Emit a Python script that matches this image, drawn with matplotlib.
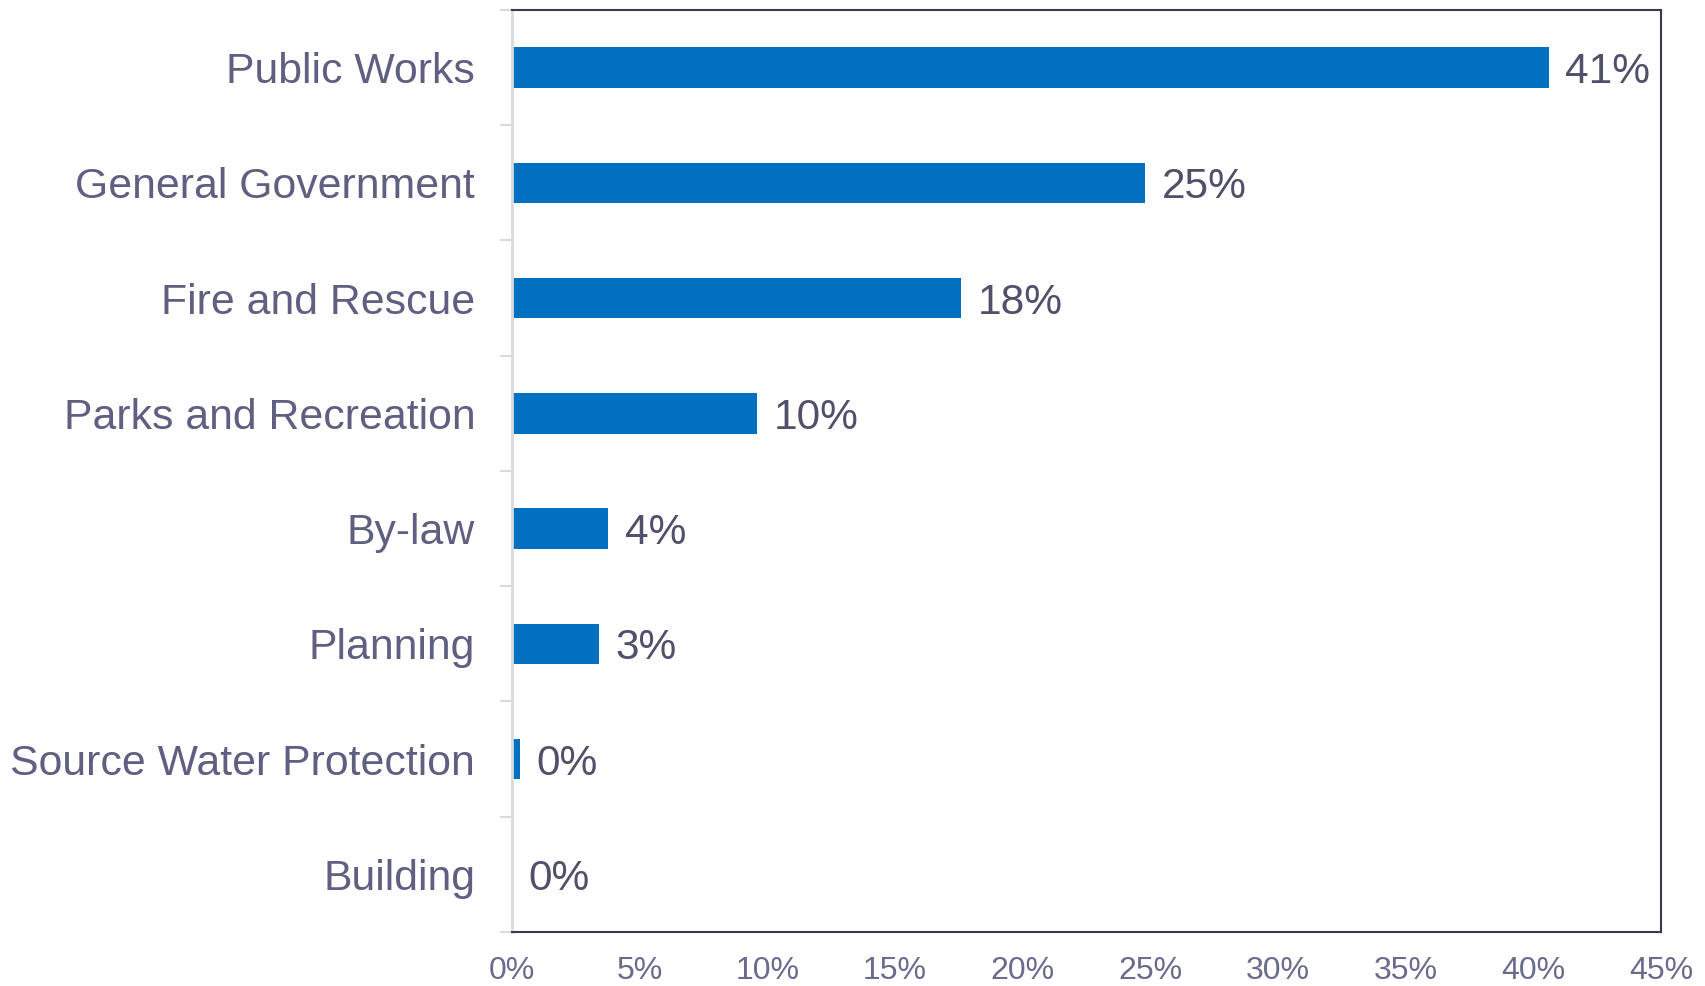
import numpy as np
import matplotlib
matplotlib.use("Agg")
from matplotlib import pyplot as plt
from matplotlib.ticker import FixedLocator, MultipleLocator, FuncFormatter

# share of spending by department (%)
departments = ["Public Works", "General Government", "Fire and Rescue",
               "Parks and Recreation", "By-law", "Planning",
               "Source Water Protection", "Building"]
shares = [40.6, 24.8, 17.6, 9.6, 3.76, 3.4, 0.3, 0.0]

plt.rcParams['font.family'] = ['Liberation Sans', 'DejaVu Sans']

bar_color = '#0070C0'
label_color = '#5f5f82'
value_color = '#50506a'
xtick_color = '#6a6a8c'

fig = plt.figure(figsize=(17.05, 9.86), dpi=100)
ax = fig.add_axes([0.3003, 0.0548, 0.6739, 0.9351])

y = np.arange(len(departments))
bars = ax.barh(y, shares, height=0.35, color=bar_color)

for rect, v in zip(bars, shares):
    ax.annotate(f"{v:.0f}%", xy=(rect.get_width(), rect.get_y() + rect.get_height() / 2),
                xytext=(12, 0), textcoords='offset points',
                ha='left', va='center_baseline', fontsize=30.5, color=value_color)

ax.set_xlim(0, 45)
ax.set_ylim(len(departments) - 0.5, -0.5)

ax.set_yticks(y)
ax.set_yticklabels(departments)
ax.yaxis.set_minor_locator(FixedLocator(np.arange(-0.5, len(departments), 1.0)))
ax.tick_params(axis='y', which='major', length=0, pad=26.5, labelsize=30.8, labelcolor=label_color)
ax.tick_params(axis='y', which='minor', length=8.6, width=1.5, color='#d9d9e0')

ax.xaxis.set_major_locator(MultipleLocator(5))
ax.xaxis.set_major_formatter(FuncFormatter(lambda v, _: f"{v:.0f}%"))
ax.tick_params(axis='x', length=0, pad=17.5, labelsize=23, labelcolor=xtick_color)

ax.spines['left'].set_color('#d9d9e0')
ax.spines['left'].set_linewidth(2)
for side in ('top', 'right', 'bottom'):
    ax.spines[side].set_color('#3a3a4a')
    ax.spines[side].set_linewidth(1.5)

fig.savefig('out.png', dpi=100)
